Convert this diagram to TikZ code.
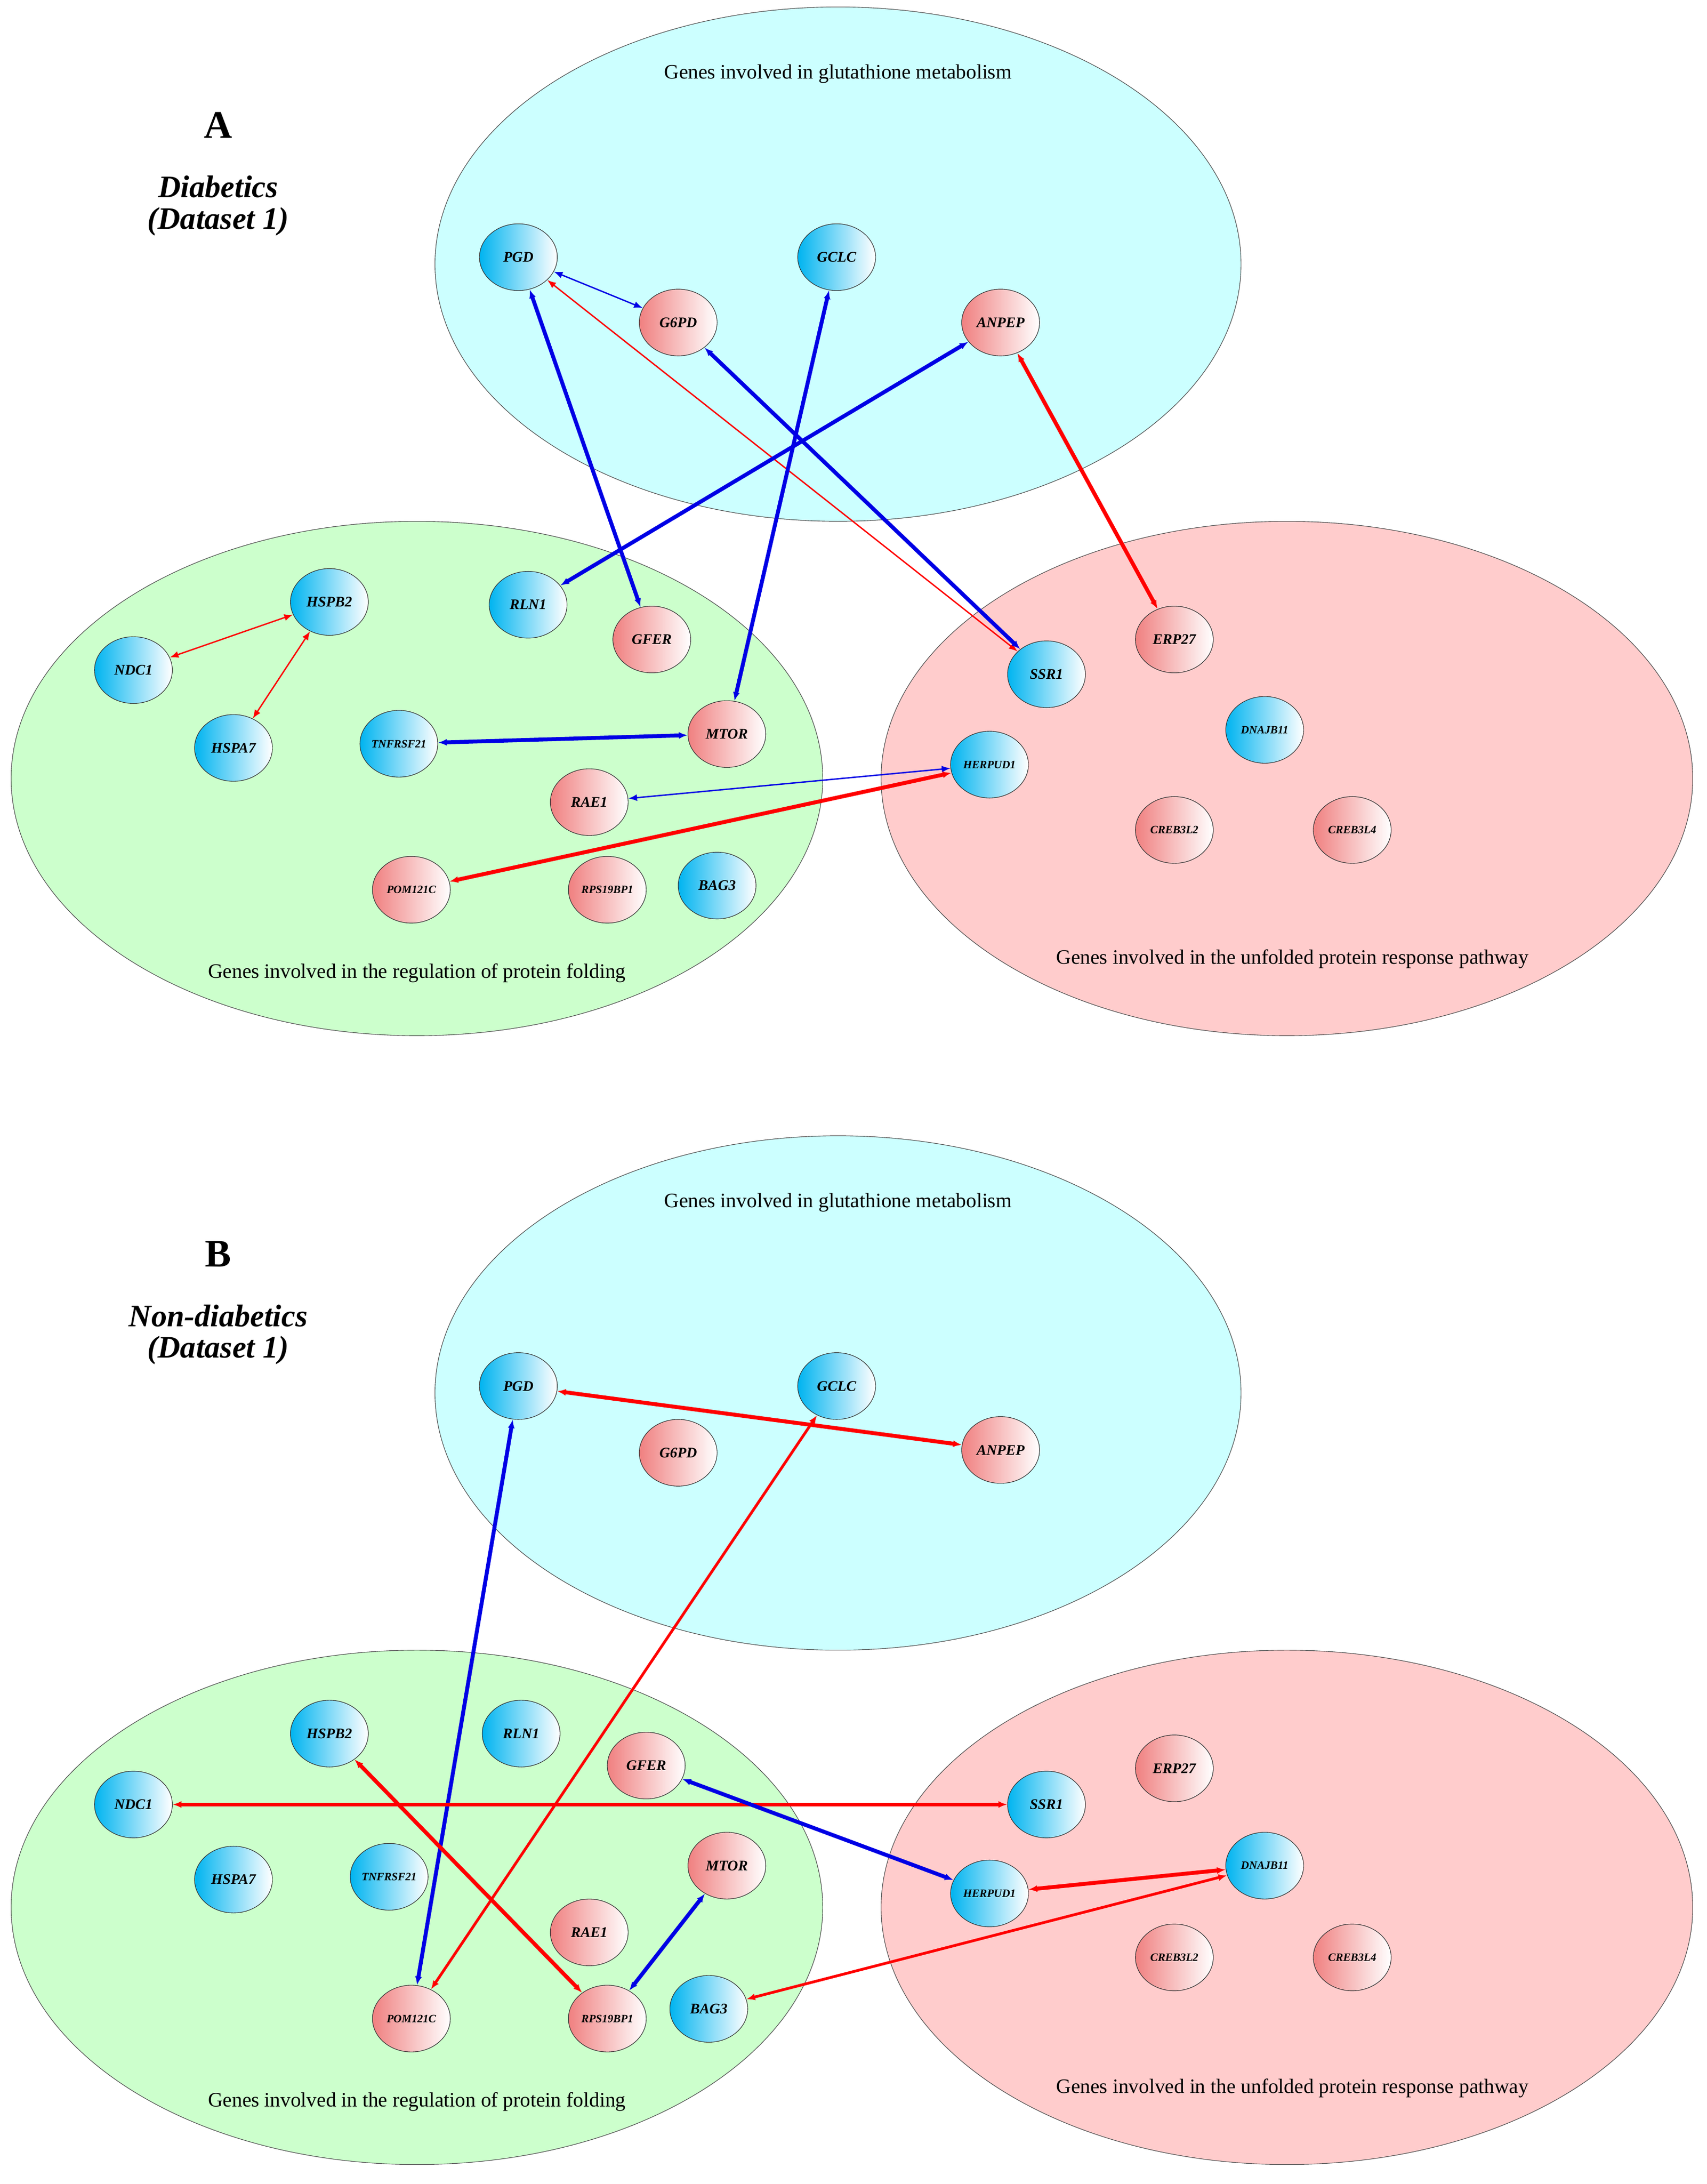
\documentclass[tikz,border=0pt]{standalone}
\usepackage{fontspec}
\setmainfont{Liberation Serif}
\usetikzlibrary{shapes.geometric,arrows.meta}
\begin{document}
\begin{tikzpicture}[x=0.05cm,y=-0.05cm,
  grp/.style={draw=black!70,line width=0.6pt},
  gene/.style={ellipse,draw=black!80,line width=0.6pt,minimum width=2.8cm,minimum height=2.4cm,inner sep=0pt,font=\fontsize{15}{15}\selectfont\bfseries\itshape},
  sm/.style={font=\fontsize{11.5}{12}\selectfont\bfseries\itshape},
  bl/.style={gene,left color={rgb,255:red,0;green,180;blue,240},right color=white},
  pk/.style={gene,left color={rgb,255:red,240;green,128;blue,128},right color=white},
  lbl/.style={font=\fontsize{21}{21}\selectfont},
  e/.style={{Latex[length=9pt,width=7pt]}-{Latex[length=9pt,width=7pt]}},
  thick1/.style={e,line width=4pt},
  med/.style={e,line width=2.8pt},
  thin1/.style={e,line width=1.4pt},
  B/.style={blue!90!black},R/.style={red}]
\useasboundingbox (0,0) rectangle (1228,1571);
\foreach \o/\ti/\tb in {0/A/Diabetics,812/B/Non-diabetics}{
  \fill[grp,fill={rgb,255:red,204;green,255;blue,255}] (603,190+\o) ellipse [x radius=290,y radius=185];
  \fill[grp,fill={rgb,255:red,204;green,255;blue,204}] (300,560+\o) ellipse [x radius=292,y radius=185];
  \fill[grp,fill={rgb,255:red,255;green,204;blue,204}] (926,560+\o) ellipse [x radius=292,y radius=185];
  \node[lbl] (gl\ti) at (603,53+\o) {Genes involved in glutathione metabolism};
  \node[lbl] (pf\ti) at (300,700+\o) {Genes involved in the regulation of protein folding};
  \node[lbl] (up\ti) at (930,690+\o) {Genes involved in the unfolded protein response pathway};
  \node[font=\fontsize{40}{40}\selectfont\bfseries] (t\ti) at (157,90+\o) {\ti};
  \node[font=\fontsize{32}{32}\selectfont\bfseries\itshape,align=center] (s\ti) at (157,148+\o) {\tb\\(Dataset 1)};
}
% Panel A nodes
\node[bl] (aPGD) at (373,185) {PGD};
\node[bl] (aGCLC) at (602,185) {GCLC};
\node[pk] (aG6PD) at (488,232) {G6PD};
\node[pk] (aANPEP) at (720,232) {ANPEP};
\node[bl] (aRLN1) at (380,435) {RLN1};
\node[bl] (aHSPB2) at (237,433) {HSPB2};
\node[pk] (aGFER) at (469,460) {GFER};
\node[bl] (aNDC1) at (96,482) {NDC1};
\node[bl] (aSSR1) at (753,485) {SSR1};
\node[pk] (aERP27) at (845,460) {ERP27};
\node[bl,sm] (aDNAJB11) at (910,525) {DNAJB11};
\node[bl] (aHSPA7) at (168,538) {HSPA7};
\node[bl,sm] (aTNFRSF21) at (287,535) {TNFRSF21};
\node[pk] (aMTOR) at (523,528) {MTOR};
\node[bl,sm] (aHERPUD1) at (712,550) {HERPUD1};
\node[pk] (aRAE1) at (424,577) {RAE1};
\node[pk,sm] (aCREB3L2) at (845,597) {CREB3L2};
\node[pk,sm] (aCREB3L4) at (973,597) {CREB3L4};
\node[pk,sm] (aPOM121C) at (296,640) {POM121C};
\node[pk,sm] (aRPS19BP1) at (437,640) {RPS19BP1};
\node[bl] (aBAG3) at (516,637) {BAG3};
% Panel B nodes
\node[bl] (bPGD) at (373,997) {PGD};
\node[bl] (bGCLC) at (602,997) {GCLC};
\node[pk] (bG6PD) at (488,1045) {G6PD};
\node[pk] (bANPEP) at (720,1043) {ANPEP};
\node[bl] (bRLN1) at (375,1247) {RLN1};
\node[bl] (bHSPB2) at (237,1247) {HSPB2};
\node[pk] (bGFER) at (465,1270) {GFER};
\node[bl] (bNDC1) at (96,1298) {NDC1};
\node[bl] (bSSR1) at (753,1298) {SSR1};
\node[pk] (bERP27) at (845,1272) {ERP27};
\node[bl,sm] (bDNAJB11) at (910,1342) {DNAJB11};
\node[bl] (bHSPA7) at (168,1352) {HSPA7};
\node[bl,sm] (bTNFRSF21) at (280,1350) {TNFRSF21};
\node[pk] (bMTOR) at (523,1342) {MTOR};
\node[bl,sm] (bHERPUD1) at (712,1362) {HERPUD1};
\node[pk] (bRAE1) at (424,1390) {RAE1};
\node[pk,sm] (bCREB3L2) at (845,1408) {CREB3L2};
\node[pk,sm] (bCREB3L4) at (973,1408) {CREB3L4};
\node[pk,sm] (bPOM121C) at (296,1452) {POM121C};
\node[pk,sm] (bRPS19BP1) at (437,1452) {RPS19BP1};
\node[bl] (bBAG3) at (510,1445) {BAG3};
% Panel A edges
\draw[thin1,B] (aPGD) -- (aG6PD);
\draw[thin1,R] (aPGD) -- (aSSR1);
\draw[thick1,B] (aPGD) -- (aGFER);
\draw[thick1,B] (aGCLC) -- (aMTOR);
\draw[thick1,B] (aG6PD) -- (aSSR1);
\draw[thick1,B] (aANPEP) -- (aRLN1);
\draw[thick1,R] (aANPEP) -- (aERP27);
\draw[thin1,R] (aHSPB2) -- (aNDC1);
\draw[thin1,R] (aHSPB2) -- (aHSPA7);
\draw[thick1,B] (aTNFRSF21) -- (aMTOR);
\draw[thin1,B] (aHERPUD1) -- (aRAE1);
\draw[thick1,R] (aHERPUD1) -- (aPOM121C);
% Panel B edges
\draw[thick1,R] (bPGD) -- (bANPEP);
\draw[thick1,B] (bPGD) -- (bPOM121C);
\draw[med,R] (bGCLC) -- (bPOM121C);
\draw[thick1,R] (bHSPB2) -- (bRPS19BP1);
\draw[thick1,R] (bNDC1) -- (bSSR1);
\draw[thick1,B] (bGFER) -- (bHERPUD1);
\draw[thick1,R] (bHERPUD1) -- (bDNAJB11);
\draw[med,R] (bDNAJB11) -- (bBAG3);
\draw[thick1,B] (bMTOR) -- (bRPS19BP1);
\end{tikzpicture}
\end{document}
